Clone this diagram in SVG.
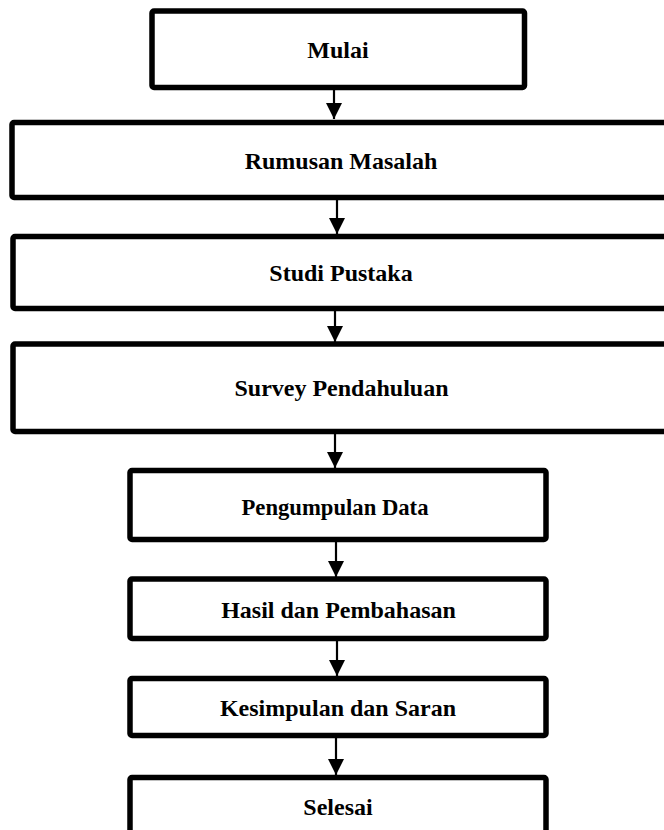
<svg xmlns="http://www.w3.org/2000/svg" width="664" height="830" viewBox="0 0 664 830">
<defs>
<style>
.box{fill:#fff;stroke:#000;stroke-width:5.5}
.lbl{font-family:"Liberation Serif","Times New Roman",serif;font-weight:bold;font-size:24px;fill:#000;text-anchor:middle}
.con{stroke:#000;stroke-width:2.2;fill:none}
</style>
<marker id="ah" markerWidth="16" markerHeight="16" viewBox="0 0 16 16" refX="16" refY="8" orient="auto" markerUnits="userSpaceOnUse">
<path d="M0,0 L16,8 L0,16 Z" fill="#000"/>
</marker>
</defs>
<rect width="664" height="830" fill="#fff"/>
<g id="connectors">
<line class="con" x1="334" y1="89" x2="334" y2="119" marker-end="url(#ah)"/>
<line class="con" x1="337" y1="200" x2="337" y2="234" marker-end="url(#ah)"/>
<line class="con" x1="335" y1="311" x2="335" y2="342" marker-end="url(#ah)"/>
<line class="con" x1="335" y1="434" x2="335" y2="468" marker-end="url(#ah)"/>
<line class="con" x1="336" y1="542" x2="336" y2="577" marker-end="url(#ah)"/>
<line class="con" x1="337" y1="641" x2="337" y2="676" marker-end="url(#ah)"/>
<line class="con" x1="336" y1="738" x2="336" y2="775" marker-end="url(#ah)"/>
</g>
<g id="mulai">
<rect class="box" x="152" y="11" width="372.5" height="76.5" rx="2"/>
<text class="lbl" x="338" y="58">Mulai</text>
</g>
<g id="rumusan-masalah">
<rect class="box" x="12" y="122.5" width="680" height="75" rx="2"/>
<text class="lbl" x="341" y="169">Rumusan Masalah</text>
</g>
<g id="studi-pustaka">
<rect class="box" x="13" y="236.5" width="680" height="72" rx="2"/>
<text class="lbl" x="341" y="281">Studi Pustaka</text>
</g>
<g id="survey-pendahuluan">
<rect class="box" x="13" y="344" width="680" height="87.5" rx="2"/>
<text class="lbl" x="341.5" y="396">Survey Pendahuluan</text>
</g>
<g id="pengumpulan-data">
<rect class="box" x="130" y="470.5" width="416" height="69" rx="2"/>
<text class="lbl" x="335" y="515" textLength="187" lengthAdjust="spacingAndGlyphs">Pengumpulan Data</text>
</g>
<g id="hasil-dan-pembahasan">
<rect class="box" x="130" y="579" width="416" height="59.5" rx="2"/>
<text class="lbl" x="338.5" y="618">Hasil dan Pembahasan</text>
</g>
<g id="kesimpulan-dan-saran">
<rect class="box" x="130" y="678.5" width="416" height="57" rx="2"/>
<text class="lbl" x="338" y="715.5">Kesimpulan dan Saran</text>
</g>
<g id="selesai">
<rect class="box" x="130" y="777.5" width="416" height="80" rx="2"/>
<text class="lbl" x="338" y="815">Selesai</text>
</g>
</svg>
